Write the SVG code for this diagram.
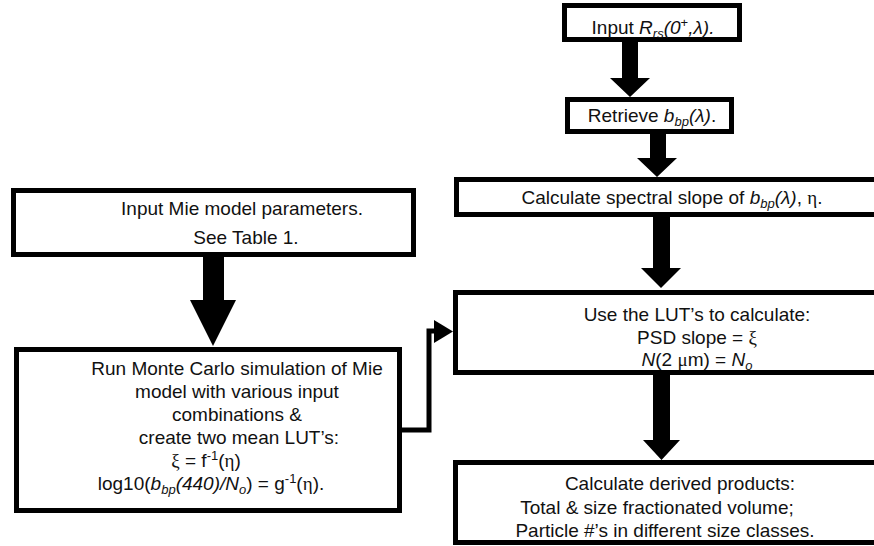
<svg xmlns="http://www.w3.org/2000/svg" width="874" height="546" viewBox="0 0 874 546">
<style>
.box{fill:#fff;stroke:#000;stroke-width:5}
.t{font-family:"Liberation Sans",Arial,sans-serif;font-size:19px;fill:#111;text-anchor:middle}
.i{font-style:italic}
.s{font-size:13px}
.g{font-family:"Liberation Serif","DejaVu Serif",serif}
.arr{fill:#000}
.ln{fill:none;stroke:#000;stroke-width:5}
</style>
<rect width="874" height="546" fill="#fff"/>
<g id="connectors">
<polygon class="arr" points="622,40 638,40 638,78 650,78 630,97 610,78 622,78"/>
<polygon class="arr" points="650,132 666,132 666,158 677,158 657,177 637,158 650,158"/>
<polygon class="arr" points="653,215 670,215 670,268 681,268 661,288 641,268 653,268"/>
<polygon class="arr" points="653,373 670,373 670,440 680,440 661.5,460 643,440 653,440"/>
<polygon class="arr" points="203,255 224,255 224,300 236,300 213,346 190,300 203,300"/>
<polyline class="ln" points="400,430 429,430 429,331 437,331"/>
<polygon class="arr" points="434,320 453,331.5 434,343"/>
</g>
<g id="input-rrs">
<rect class="box" x="564.5" y="5.5" width="175" height="34"/>
<text class="t" x="653" y="34">Input <tspan class="i">R</tspan><tspan class="i s" dy="4">rs</tspan><tspan class="i" dy="-4">(0</tspan><tspan class="s" dy="-7">+</tspan><tspan class="i" dy="7">,λ).</tspan></text>
</g>
<g id="retrieve-bbp">
<rect class="box" x="567.5" y="99.5" width="164" height="32"/>
<text class="t" x="652" y="122">Retrieve <tspan class="i">b</tspan><tspan class="i s" dy="4">bp</tspan><tspan class="i" dy="-4">(λ)</tspan>.</text>
</g>
<g id="spectral-slope">
<rect class="box" x="456.5" y="179.5" width="430" height="35"/>
<text class="t" x="672" y="204">Calculate spectral slope of <tspan class="i">b</tspan><tspan class="i s" dy="4">bp</tspan><tspan class="i" dy="-4">(λ)</tspan>, <tspan class="g">η</tspan>.</text>
</g>
<g id="mie-input">
<rect class="box" x="13.5" y="190.5" width="400" height="64"/>
<text class="t" x="242" y="215">Input Mie model parameters.</text>
<text class="t" x="246" y="244">See Table 1.</text>
</g>
<g id="monte-carlo">
<rect class="box" x="16.5" y="349.5" width="383" height="161"/>
<text class="t" x="237" y="375">Run Monte Carlo simulation of Mie</text>
<text class="t" x="237" y="398">model with various input</text>
<text class="t" x="237" y="421">combinations &amp;</text>
<text class="t" x="239" y="444">create two mean LUT’s:</text>
<text class="t" x="206" y="467"><tspan class="g">ξ</tspan> = f<tspan class="s" dy="-7">-1</tspan><tspan dy="7">(</tspan><tspan class="g">η</tspan>)</text>
<text class="t" x="211" y="490">log10(<tspan class="i">b</tspan><tspan class="i s" dy="4">bp</tspan><tspan class="i" dy="-4">(440)/N</tspan><tspan class="i s" dy="4">o</tspan><tspan dy="-4">) = g</tspan><tspan class="s" dy="-7">-1</tspan><tspan dy="7">(</tspan><tspan class="g">η</tspan>).</text>
</g>
<g id="use-luts">
<rect class="box" x="455.5" y="292.5" width="430" height="80"/>
<text class="t" x="697" y="321">Use the LUT’s to calculate:</text>
<text class="t" x="697" y="344">PSD slope = <tspan class="g">ξ</tspan></text>
<text class="t" x="697" y="366"><tspan class="i">N</tspan>(2 <tspan class="g">μ</tspan>m) = <tspan class="i">N</tspan><tspan class="i s" dy="4">o</tspan></text>
</g>
<g id="derived-products">
<rect class="box" x="455.5" y="462.5" width="430" height="80"/>
<text class="t" x="680" y="490">Calculate derived products:</text>
<text class="t" x="657" y="514">Total &amp; size fractionated volume;</text>
<text class="t" x="665" y="537">Particle #’s in different size classes.</text>
</g>
</svg>
